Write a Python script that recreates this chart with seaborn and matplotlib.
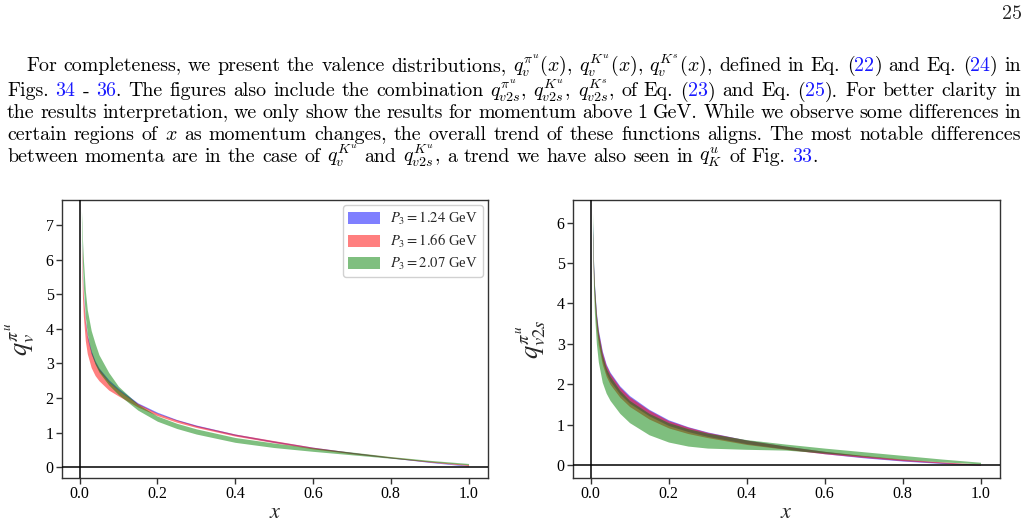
import matplotlib
matplotlib.use("Agg")
import matplotlib.pyplot as plt
from matplotlib.patches import Patch
import seaborn as sns

sns.set_theme(style="ticks")
plt.rcParams["font.family"] = ["Liberation Serif", "DejaVu Serif"]
plt.rcParams["mathtext.fontset"] = "stix"

# ---------------- data ----------------
xs = [0.005, 0.0075, 0.01, 0.015, 0.02, 0.03, 0.04, 0.05, 0.075, 0.1, 0.15,
      0.2, 0.25, 0.3, 0.4, 0.5, 0.6, 0.7, 0.8, 0.9, 1.0]

momenta = ["1.24", "1.66", "2.07"]
band_colors = ["blue", "red", "green"]

# left panel: q_v^{pi^u}
qv_p124_lo = [6.42, 5.48, 4.88, 4.14, 3.72, 3.27, 3.00, 2.79, 2.46, 2.22, 1.81, 1.55, 1.35, 1.18, 0.92, 0.72, 0.55, 0.40, 0.27, 0.14, 0.03]
qv_p124_hi = [6.52, 5.58, 4.98, 4.24, 3.82, 3.37, 3.08, 2.87, 2.53, 2.28, 1.86, 1.59, 1.38, 1.22, 0.96, 0.76, 0.58, 0.43, 0.29, 0.16, 0.05]
qv_p166_lo = [6.10, 4.95, 4.35, 3.65, 3.28, 2.88, 2.65, 2.50, 2.23, 2.06, 1.74, 1.49, 1.30, 1.15, 0.90, 0.71, 0.53, 0.39, 0.27, 0.15, 0.05]
qv_p166_hi = [6.45, 5.50, 4.92, 4.22, 3.80, 3.33, 3.04, 2.84, 2.48, 2.23, 1.84, 1.56, 1.37, 1.21, 0.96, 0.77, 0.58, 0.43, 0.30, 0.18, 0.08]
qv_p207_lo = [7.10, 5.90, 5.20, 4.35, 3.85, 3.30, 2.98, 2.75, 2.38, 2.10, 1.65, 1.33, 1.12, 0.96, 0.72, 0.57, 0.46, 0.36, 0.26, 0.16, 0.07]
qv_p207_hi = [7.42, 6.60, 6.00, 5.10, 4.55, 3.95, 3.58, 3.25, 2.74, 2.34, 1.82, 1.48, 1.27, 1.11, 0.86, 0.70, 0.56, 0.44, 0.31, 0.20, 0.11]

# right panel: q_{v2s}^{pi^u}
q2s_p124_lo = [5.70, 4.75, 4.20, 3.52, 3.10, 2.60, 2.28, 2.08, 1.76, 1.53, 1.22, 0.98, 0.83, 0.71, 0.53, 0.40, 0.28, 0.18, 0.10, 0.04, 0.00]
q2s_p124_hi = [6.00, 5.06, 4.48, 3.78, 3.35, 2.83, 2.50, 2.30, 1.96, 1.72, 1.38, 1.12, 0.95, 0.82, 0.62, 0.47, 0.34, 0.23, 0.14, 0.07, 0.01]
q2s_p166_lo = [5.55, 4.60, 4.05, 3.38, 2.98, 2.50, 2.20, 2.00, 1.68, 1.45, 1.14, 0.92, 0.78, 0.68, 0.51, 0.39, 0.28, 0.19, 0.11, 0.05, 0.00]
q2s_p166_hi = [5.80, 4.95, 4.40, 3.72, 3.30, 2.79, 2.47, 2.27, 1.93, 1.69, 1.36, 1.10, 0.94, 0.81, 0.62, 0.47, 0.34, 0.24, 0.15, 0.08, 0.02]
q2s_p207_lo = [5.60, 4.40, 3.75, 3.00, 2.55, 2.05, 1.78, 1.60, 1.28, 1.05, 0.75, 0.57, 0.47, 0.42, 0.39, 0.37, 0.30, 0.22, 0.14, 0.08, 0.03]
q2s_p207_hi = [6.25, 5.10, 4.45, 3.70, 3.25, 2.72, 2.40, 2.20, 1.85, 1.60, 1.28, 1.05, 0.90, 0.79, 0.63, 0.52, 0.42, 0.33, 0.24, 0.15, 0.07]

x_ticks = [0.0, 0.2, 0.4, 0.6, 0.8, 1.0]
left_yticks = [0, 1, 2, 3, 4, 5, 6, 7]
right_yticks = [0, 1, 2, 3, 4, 5, 6]

para_lines = [
    r"For completeness, we present the valence distributions, $q_v^{\pi^u}(x)$, $q_v^{K^u}(x)$, $q_v^{K^s}(x)$, defined in Eq. (§22§) and Eq. (§24§) in",
    r"Figs. §34§ - §36§. The figures also include the combination $q_{v2s}^{\pi^u}$, $q_{v2s}^{K^u}$, $q_{v2s}^{K^s}$, of Eq. (§23§) and Eq. (§25§). For better clarity in",
    r"the results interpretation, we only show the results for momentum above 1 GeV. While we observe some differences in",
    r"certain regions of $x$ as momentum changes, the overall trend of these functions aligns. The most notable differences",
    r"between momenta are in the case of $q_v^{K^u}$ and $q_{v2s}^{K^u}$, a trend we have also seen in $q_K^u$ of Fig. §33§.",
]
page_number = "25"

# ---------------- figure ----------------
W, H = 1028, 531
fig = plt.figure(figsize=(W / 100, H / 100), dpi=100)
renderer = fig.canvas.get_renderer()
LINK = "#1a1aff"
TXT = dict(fontfamily="cmr10", math_fontfamily="cm")


def fx(px):
    return px / W


def fy(py):
    return 1 - py / H


def segs(word):
    parts = word.split("§")
    return [(p, LINK if i % 2 else "black") for i, p in enumerate(parts) if p]


def width(text, fs):
    t = fig.text(0, 0, text, fontsize=fs, **TXT)
    w = t.get_window_extent(renderer).width
    t.remove()
    return w


def word_width(word, fs):
    return sum(width(s, fs) for s, _ in segs(word))


# calibrate font size on last (natural-spaced) line
fs0 = 10.0
last_words = para_lines[-1].split(" ")
space0 = width("a a", fs0) - width("aa", fs0)
nat0 = sum(word_width(w, fs0) for w in last_words) + space0 * (len(last_words) - 1)
fs = fs0 * (821 - 7) / nat0
space = space0 * fs / fs0

starts = [26, 7, 7, 7, 7]
right_edge = 1021
baselines = [71, 96.5, 118, 140, 162]
for i, line in enumerate(para_lines):
    words = line.split(" ")
    widths = [word_width(w, fs) for w in words]
    if i < len(para_lines) - 1:
        gap = (right_edge - starts[i] - sum(widths)) / (len(words) - 1)
    else:
        gap = space
    x = starts[i]
    for w, ww in zip(words, widths):
        xx = x
        for s, c in segs(w):
            fig.text(fx(xx), fy(baselines[i]), s, fontsize=fs, color=c,
                     va="baseline", ha="left", **TXT)
            xx += width(s, fs)
        x += ww + gap

fig.text(fx(1022), fy(19), page_number, fontsize=fs, va="baseline", ha="right", **TXT)

# ---------------- panels ----------------
axL = fig.add_axes([fx(62), fy(478), (488 - 62) / W, (478 - 200) / H])
axR = fig.add_axes([fx(573), fy(478), (1000 - 573) / W, (478 - 200) / H])

left_bands = [(qv_p124_lo, qv_p124_hi), (qv_p166_lo, qv_p166_hi), (qv_p207_lo, qv_p207_hi)]
right_bands = [(q2s_p124_lo, q2s_p124_hi), (q2s_p166_lo, q2s_p166_hi), (q2s_p207_lo, q2s_p207_hi)]


def panel(ax, bands, ylabel, ylim, yticks):
    for (lo, hi), c, p in zip(bands, band_colors, momenta):
        ax.fill_between(xs, lo, hi, color=c, alpha=0.5, lw=0,
                        label=rf"$P_3 = {p}$ GeV")
    ax.axhline(0, color="black", lw=1.1, zorder=3)
    ax.axvline(0, color="black", lw=1.1, zorder=3)
    ax.set_xlim(-0.045, 1.05)
    ax.set_ylim(*ylim)
    ax.set_xticks(x_ticks)
    ax.set_xticklabels([f"{t:.1f}" for t in x_ticks])
    ax.set_yticks(yticks)
    ax.set_yticklabels([str(t) for t in yticks])
    ax.tick_params(direction="out", length=4, width=1, labelsize=11.5,
                   colors="#333333", labelcolor="black", pad=2)
    for sp in ax.spines.values():
        sp.set_visible(True)
        sp.set_color("#333333")
        sp.set_linewidth(1.0)
    ax.set_xlabel("$x$", fontsize=16, labelpad=1)
    ax.set_ylabel(ylabel, fontsize=19, labelpad=6)
    ax.grid(False)


panel(axL, left_bands, r"$q_v^{\pi^u}$", (-0.31, 7.72), left_yticks)
panel(axR, right_bands, r"$q_{v2s}^{\pi^u}$", (-0.32, 6.56), right_yticks)

handles = [Patch(facecolor=c, alpha=0.5, edgecolor="none") for c in band_colors]
labels = [rf"$P_3 = {p}$ GeV" for p in momenta]
axL.legend(handles, labels, loc="upper right", fontsize=10.5, frameon=True,
           fancybox=True, framealpha=0.9, edgecolor="#cccccc",
           handlelength=2.2, handleheight=0.85, borderpad=0.35,
           labelspacing=0.4, borderaxespad=0.35, handletextpad=0.7)

fig.savefig("out.png", dpi=100)
